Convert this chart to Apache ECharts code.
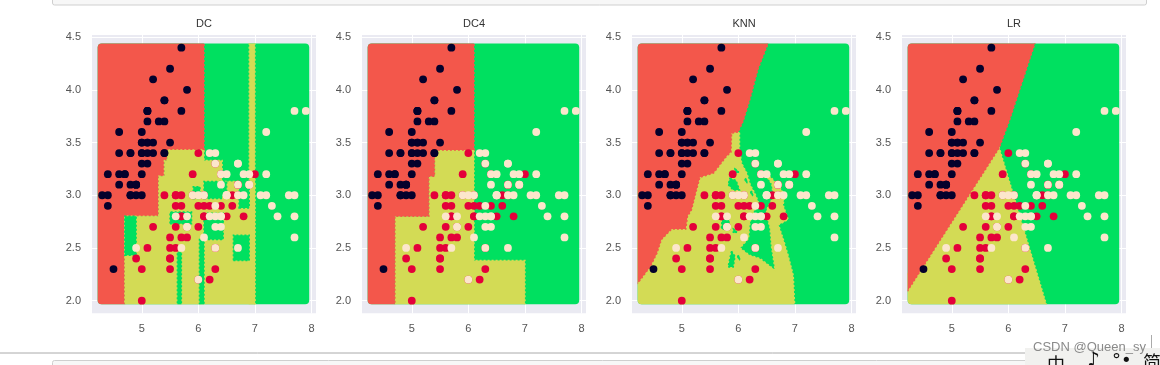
<!DOCTYPE html>
<html><head><meta charset="utf-8">
<style>html,body{margin:0;padding:0;background:#fff}#c{width:1160px;height:365px;filter:blur(0.35px)}</style>
<script src="https://cdn.jsdelivr.net/npm/echarts@6/dist/echarts.min.js"></script>
</head><body><div id="c"></div>
<script>
// Sepal length / sepal width
const setosa=[[5.1,3.5],[4.9,3.0],[4.7,3.2],[4.6,3.1],[5.0,3.6],[5.4,3.9],[4.6,3.4],[5.0,3.4],[4.4,2.9],[4.9,3.1],[5.4,3.7],[4.8,3.4],[4.8,3.0],[4.3,3.0],[5.8,4.0],[5.7,4.4],[5.4,3.9],[5.1,3.5],[5.7,3.8],[5.1,3.8],[5.4,3.4],[5.1,3.7],[4.6,3.6],[5.1,3.3],[4.8,3.4],[5.0,3.0],[5.0,3.4],[5.2,3.5],[5.2,3.4],[4.7,3.2],[4.8,3.1],[5.4,3.4],[5.2,4.1],[5.5,4.2],[4.9,3.1],[5.0,3.2],[5.5,3.5],[4.9,3.1],[4.4,3.0],[5.1,3.4],[5.0,3.5],[4.5,2.3],[4.4,3.2],[5.0,3.5],[5.1,3.8],[4.8,3.0],[5.1,3.8],[4.6,3.2],[5.3,3.7],[5.0,3.3]];
const versicolor=[[7.0,3.2],[6.4,3.2],[6.9,3.1],[5.5,2.3],[6.5,2.8],[5.7,2.8],[6.3,3.3],[4.9,2.4],[6.6,2.9],[5.2,2.7],[5.0,2.0],[5.9,3.0],[6.0,2.2],[6.1,2.9],[5.6,2.9],[6.7,3.1],[5.6,3.0],[5.8,2.7],[6.2,2.2],[5.6,2.5],[5.9,3.2],[6.1,2.8],[6.3,2.5],[6.1,2.8],[6.4,2.9],[6.6,3.0],[6.8,2.8],[6.7,3.0],[6.0,2.9],[5.7,2.6],[5.5,2.4],[5.5,2.4],[5.8,2.7],[6.0,2.7],[5.4,3.0],[6.0,3.4],[6.7,3.1],[6.3,2.3],[5.6,3.0],[5.5,2.5],[5.5,2.6],[6.1,3.0],[5.8,2.6],[5.0,2.3],[5.6,2.7],[5.7,3.0],[5.7,2.9],[6.2,2.9],[5.1,2.5],[5.7,2.8]];
const virginica=[[6.3,3.3],[5.8,2.7],[7.1,3.0],[6.3,2.9],[6.5,3.0],[7.6,3.0],[4.9,2.5],[7.3,2.9],[6.7,2.5],[7.2,3.6],[6.5,3.2],[6.4,2.7],[6.8,3.0],[5.7,2.5],[5.8,2.8],[6.4,3.2],[6.5,3.0],[7.7,3.8],[7.7,2.6],[6.0,2.2],[6.9,3.2],[5.6,2.8],[7.7,2.8],[6.3,2.7],[6.7,3.3],[7.2,3.2],[6.2,2.8],[6.1,3.0],[6.4,2.8],[7.2,3.0],[7.4,2.8],[7.9,3.8],[6.4,2.8],[6.3,2.8],[6.1,2.6],[7.7,3.0],[6.3,3.4],[6.4,3.1],[6.0,3.0],[6.9,3.1],[6.7,3.1],[6.9,3.1],[5.8,2.7],[6.8,3.2],[6.7,3.3],[6.7,3.0],[6.3,2.5],[6.5,3.0],[6.2,3.4],[5.9,3.0]];

const panelTitles=['DC','DC4','KNN','LR'];
const xTicks=[5,6,7,8];
const yTicks=[2,2.5,3,3.5,4,4.5];
const regionExtent=[4.22,7.96,1.966,4.44];
const R=0,G=1,Y=2;

function box(c,x0,x1,y0,y1){return [c,[[x0,y0],[x1,y0],[x1,y1],[x0,y1]]];}
// Decision regions: [class, polygon in data units]; later entries paint over earlier ones
const regionsDC=[
 box(G,4,8.2,1.9,4.6),
 [R,[[4,1.9],[4.7,1.9],[4.7,2.8],[5.3,2.8],[5.3,3.18],[5.4,3.18],[5.4,3.33],[5.45,3.33],[5.45,3.43],[6.1,3.43],[6.1,4.6],[4,4.6]]],
 box(Y,6.9,7,1.9,4.6),
 [Y,[[4.7,1.9],[7,1.9],[7,3.13],[6.42,3.13],[6.42,3.33],[6.1,3.33],[6.1,3.43],[5.45,3.43],[5.45,3.33],[5.4,3.33],[5.4,3.18],[5.3,3.18],[5.3,2.8],[4.7,2.8]]],
 box(G,4.7,4.9,2.43,2.8),
 box(G,5.63,5.7,1.9,2.46),
 box(G,6.02,6.1,1.9,2.58),
 box(G,6.62,6.9,2.38,2.62),
 box(G,5.5,5.88,2.73,2.84),
 box(G,5.91,6.03,2.97,3.08),
 box(G,6.1,6.42,2.97,3.13),
 box(G,6.42,6.5,3.0,3.13),
 box(G,6.1,6.44,2.58,2.83),
 box(G,6.72,6.9,2.88,3.15)
];
const regionsDC4=[
 box(G,4,8.2,1.9,4.6),
 [Y,[[4.7,1.9],[7,1.9],[7,2.38],[6.1,2.38],[6.1,3.43],[5.4,3.43],[5.4,3.18],[5.3,3.18],[5.3,2.8],[4.7,2.8]]],
 [R,[[4,1.9],[4.7,1.9],[4.7,2.8],[5.3,2.8],[5.3,3.18],[5.4,3.18],[5.4,3.43],[6.1,3.43],[6.1,4.6],[4,4.6]]]
];
const regionsKNN=[
 box(G,4,8.2,1.9,4.6),
 [Y,[[4,1.9],[4,3],[5.5,3.6],[6.02,3.6],[6.02,3.43],[6.06,3.3],[6.15,3.21],[6.21,3.1],[6.29,3.02],[6.35,2.94],[6.3,2.87],[6.23,2.81],[6.2,2.72],[6.18,2.59],[6.03,2.5],[6.2,2.43],[6.38,2.4],[6.65,2.29],[6.59,2.5],[6.56,2.69],[6.5,2.81],[6.5,2.86],[6.62,2.99],[6.59,3.11],[6.5,3.18],[6.52,3.2],[6.73,3.08],[6.82,2.99],[6.79,2.91],[6.88,2.77],[6.78,2.74],[6.71,2.72],[6.79,2.59],[6.88,2.43],[6.97,2.24],[7,1.9]]],
 [R,[[4,4.6],[4,2.1],[4.22,2.165],[4.44,2.32],[4.56,2.45],[4.64,2.58],[4.82,2.68],[5.07,2.68],[5.1,2.8],[5.17,2.86],[5.26,3.05],[5.32,3.17],[5.56,3.21],[5.79,3.37],[5.87,3.41],[5.88,3.59],[6,3.6],[6.09,3.71],[6.2,3.9],[6.35,4.2],[6.52,4.43],[6.6,4.6]]],
 [G,[[5.85,3.16],[5.96,3.14],[6.02,3.05],[5.91,3.05],[5.82,3.1]]],
 [G,[[5.94,3.25],[6,3.23],[6,3.21],[5.95,3.21]]],
 [G,[[6.12,3.16],[6.16,3.14],[6.15,3.12],[6.12,3.13]]],
 [G,[[6.22,3.04],[6.26,3.02],[6.25,3],[6.22,3.01]]],
 [G,[[5.72,2.82],[5.84,2.8],[5.83,2.68],[5.7,2.68]]],
 [G,[[5.88,2.47],[5.94,2.42],[5.91,2.32],[5.82,2.32],[5.85,2.4]]],
 [G,[[5.99,2.43],[6.03,2.41],[6.02,2.39],[5.99,2.4]]],
 [G,[[5.91,2.68],[5.97,2.66],[5.96,2.64],[5.91,2.65]]]
];
const regionsLR=[
 box(G,4,8.2,1.9,4.6),
 [Y,[[4,1.9],[4,2.1],[5.84,3.45],[6.68,1.95],[6.69,1.9]]],
 [R,[[4,4.6],[4,1.9],[4.21,2.085],[5.84,3.45],[6.02,3.71],[6.47,4.44],[6.6,4.6]]]
];
const panelRegions=[regionsDC,regionsDC4,regionsKNN,regionsLR];

const regionColors=['#F3574B','#00E060','#D3DB55'];
const pointColors=['#04012C','#E4003A','#FCE6CC'];
const gridLefts=[92,362,632,902];

function renderRegion(regions){
 return function(params,api){
  const r=regions[params.dataIndex];
  const a=api.coord([regionExtent[0],regionExtent[3]]),b=api.coord([regionExtent[1],regionExtent[2]]);
  const col=regionColors[r[0]];
  return {type:'polygon',shape:{points:r[1].map(p=>api.coord(p))},
   style:{fill:col,stroke:col,lineWidth:1.5,lineDash:[2,2]},
   clipPath:{type:'rect',shape:{x:a[0],y:a[1],width:b[0]-a[0],height:b[1]-a[1],r:4}}};
 };
}
const grids=[],xAxes=[],yAxes=[],series=[];
const titleTexts=[];
gridLefts.forEach((left,i)=>{
 grids.push({left,top:35,width:224,height:278.3,show:true,backgroundColor:'#EAEAF2',borderWidth:0});
 titleTexts.push({type:'text',silent:true,x:left+112,y:24,style:{text:panelTitles[i],align:'center',verticalAlign:'middle',font:'11px "Liberation Sans"',fill:'#333'}});
 xAxes.push({gridIndex:i,type:'value',min:4.12,max:8.08,axisLine:{show:false},
  axisTick:{show:false,customValues:xTicks},splitLine:{show:true,lineStyle:{color:'#fff',width:1}},
  axisLabel:{customValues:xTicks,margin:10,fontSize:11,color:'#555',fontFamily:'Liberation Sans'}});
 yAxes.push({gridIndex:i,type:'value',min:1.88,max:4.52,axisLine:{show:false},
  axisTick:{show:false,customValues:yTicks},splitLine:{show:true,lineStyle:{color:'#fff',width:1}},
  axisLabel:{customValues:yTicks,margin:11,fontSize:11,color:'#555',fontFamily:'Liberation Sans',formatter:v=>v.toFixed(1)}});
 series.push({type:'custom',xAxisIndex:i,yAxisIndex:i,silent:true,clip:false,z:2,renderItem:renderRegion(panelRegions[i]),
  data:panelRegions[i].map((r,k)=>k),encode:{x:[],y:[]}});
 [setosa,versicolor,virginica].forEach((d,k)=>{
  series.push({type:'scatter',xAxisIndex:i,yAxisIndex:i,data:d,symbolSize:7.8,z:3+k,silent:true,clip:false,
   itemStyle:{color:pointColors[k],opacity:1}});
 });
});
const frame={stroke:'#cfcfcf',lineWidth:1,fill:'#f7f7f7'};
const graphic=titleTexts.concat([
 {type:'rect',silent:true,z:0,shape:{x:52.5,y:-10,width:1094,height:15,r:2},style:frame},
 {type:'rect',silent:true,z:0,shape:{x:52.5,y:360.5,width:1100,height:15,r:2},style:frame},
 {type:'line',silent:true,z:0,shape:{x1:0,y1:353,x2:1030,y2:353},style:{stroke:'#aaa',lineWidth:1}},
 {type:'line',silent:true,z:0,shape:{x1:1151.5,y1:335,x2:1151.5,y2:352},style:{stroke:'#aaa',lineWidth:1}},
 {type:'rect',silent:true,z:1,shape:{x:1025,y:348,width:135,height:17},style:{fill:'#f1f1ef'}},
 {type:'text',silent:true,z:2,x:1033,y:341,style:{text:'CSDN @Queen_sy',font:'13px "Liberation Sans"',fill:'#8a8a8a'}},
 {type:'text',silent:true,z:2,x:1047,y:355,style:{text:'中',font:'18px "Noto Sans CJK SC"',fill:'#111'}},
 {type:'text',silent:true,z:2,x:1087,y:351,style:{text:'♪',font:'20px "DejaVu Sans"',fill:'#111'}},
 {type:'text',silent:true,z:2,x:1112,y:352,style:{text:'°•',font:'18px "DejaVu Sans"',fill:'#111'}},
 {type:'text',silent:true,z:2,x:1143,y:353,style:{text:'简',font:'18px "Noto Sans CJK SC"',fill:'#111'}}
]);
const chart=echarts.init(document.getElementById('c'),null,{renderer:'canvas'});
chart.setOption({animation:false,backgroundColor:'#fff',grid:grids,xAxis:xAxes,yAxis:yAxes,series,graphic});
</script></body></html>
